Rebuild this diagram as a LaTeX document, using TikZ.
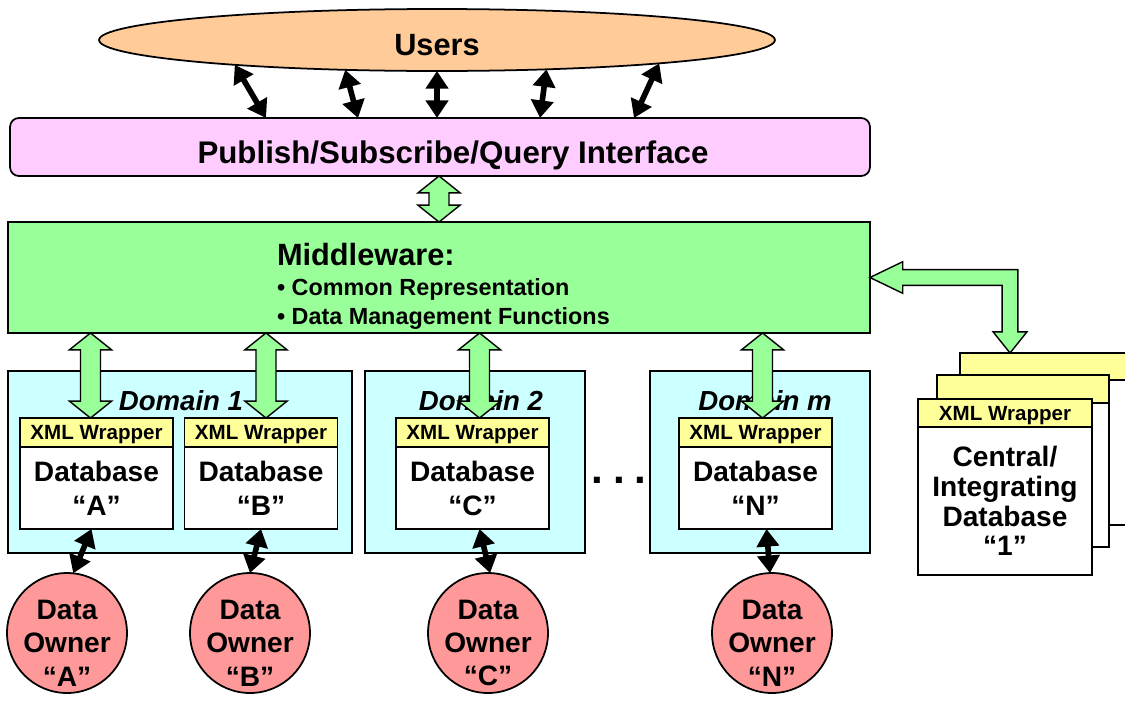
\documentclass[tikz,border=0pt]{standalone}
\usepackage{fontspec}
\setmainfont{Liberation Sans}
\usetikzlibrary{arrows.meta,calc,shapes.geometric}

\definecolor{usercol}{HTML}{FFCC99}
\definecolor{pubcol}{HTML}{FFCCFF}
\definecolor{mwcol}{HTML}{99FF99}
\definecolor{domcol}{HTML}{CCFFFF}
\definecolor{wrapcol}{HTML}{FFFF99}
\definecolor{ownercol}{HTML}{FF9999}

\newcommand{\hdfont}{\fontsize{17.5}{20}\selectfont\bfseries}
\newcommand{\dbfont}{\fontsize{16}{19.3}\selectfont\bfseries}
\newcommand{\wrapfont}{\fontsize{11.7}{14}\selectfont\bfseries}
\newcommand{\bulfont}{\fontsize{13.3}{16}\selectfont\bfseries}
\newcommand{\domfont}{\fontsize{15.7}{18}\selectfont\bfseries\itshape}

% hollow green double arrow, x taken from #2, from y of #1 down to #2
\newcommand{\garrow}[2]{%
  \draw[greenarrow] let \p1=(#1), \p2=(#2) in
    (\x2,\y1) -- (\x2+12pt,\y1-9.6pt) -- (\x2+5.7pt,\y1-9.6pt) -- (\x2+5.7pt,\y2+9.6pt)
    -- (\x2+12pt,\y2+9.6pt) -- (\x2,\y2) -- (\x2-12pt,\y2+9.6pt) -- (\x2-5.7pt,\y2+9.6pt)
    -- (\x2-5.7pt,\y1-9.6pt) -- (\x2-12pt,\y1-9.6pt) -- cycle;}

\begin{document}
\begin{tikzpicture}[x=0.02cm,y=-0.02cm,
  every node/.style={inner sep=0pt,outer sep=0pt},
  box/.style={draw,line width=1pt,rectangle},
  wrapbox/.style={box,fill=wrapcol,minimum width=3.06cm,minimum height=0.58cm,text depth=0pt,font=\wrapfont},
  dbbox/.style={box,fill=white,minimum width=3.06cm,minimum height=1.64cm,align=center,font=\dbfont},
  dombox/.style={box,fill=domcol,minimum height=3.64cm},
  owner/.style={draw,line width=1pt,circle,fill=ownercol,minimum size=2.4cm},
  ownertxt/.style={align=center,font=\fontsize{16}{19}\selectfont\bfseries},
  dblarrow/.style={line width=3.2pt,arrows={Triangle[length=10pt,width=12.5pt]-Triangle[length=10pt,width=12.5pt]}},
  greenarrow/.style={draw,line width=0.8pt,fill=mwcol,line join=miter}]
  \useasboundingbox (0,0) rectangle (1125,700);

  % users and interface
  \node[draw,line width=1pt,ellipse,fill=usercol,minimum width=13.52cm,minimum height=1.24cm] (users) at (437,40) {};
  \node[anchor=base,font=\hdfont] (userslbl) at (437,55) {Users};
  \node[box,rounded corners=5pt,fill=pubcol,minimum width=17.2cm,minimum height=1.16cm] (pub) at (440,147) {};
  \node[anchor=base,font=\fontsize{17.8}{20}\selectfont\bfseries] (publbl) at (453,163) {Publish/Subscribe/Query Interface};

  % middleware
  \node[box,fill=mwcol,minimum width=17.24cm,minimum height=2.22cm] (mw) at (439,277.5) {};
  \node[anchor=base west,font=\hdfont] (mwtitle) at (277,265) {Middleware:};
  \node[anchor=base west,font=\bulfont] (mwb1) at (277,295) {• Common Representation};
  \node[anchor=base west,font=\bulfont] (mwb2) at (277,324) {• Data Management Functions};

  % domains
  \node[dombox,minimum width=6.88cm] (dom1) at (180,462) {};
  \node[dombox,minimum width=4.4cm] (dom2) at (475,462) {};
  \node[dombox,minimum width=4.4cm] (domm) at (760,462) {};
  \node[anchor=base,font=\domfont] (dom1lbl) at (181,410) {Domain 1};
  \node[anchor=base,font=\domfont] (dom2lbl) at (481,410) {Domain 2};
  \node[anchor=base,font=\domfont] (dommlbl) at (765,410) {Domain m};

  \node[wrapbox] (xmlA) at (96.5,432.5) {XML Wrapper};
  \node[wrapbox] (xmlB) at (261,432.5) {XML Wrapper};
  \node[wrapbox] (xmlC) at (472.5,432.5) {XML Wrapper};
  \node[wrapbox] (xmlN) at (755.5,432.5) {XML Wrapper};
  \node[dbbox] (dbA) at (96.5,488) {Database\\“A”};
  \node[dbbox] (dbB) at (261,488) {Database\\“B”};
  \node[dbbox] (dbC) at (472.5,488) {Database\\“C”};
  \node[dbbox] (dbN) at (755.5,488) {Database\\“N”};
  \node[font=\fontsize{24}{24}\selectfont\bfseries] (dots) at (619,480) {.\hspace{5.5pt}.\hspace{5.5pt}.};

  % data owners
  \node[owner] (owA) at (67,633) {};
  \node[owner] (owB) at (250,633) {};
  \node[owner] (owC) at (488,633) {};
  \node[owner] (owN) at (772,633) {};
  \node[ownertxt] (owAtxt) at (67,643) {Data\\Owner\\“A”};
  \node[ownertxt] (owBtxt) at (250,643) {Data\\Owner\\“B”};
  \node[ownertxt] (owCtxt) at (488,643) {Data\\Owner\\“C”};
  \node[ownertxt] (owNtxt) at (772,643) {Data\\Owner\\“N”};

  % central database stack
  \node[box,fill=white,minimum width=4cm,minimum height=2.9cm] (backdb) at (1060,452.5) {};
  \node[box,fill=wrapcol,minimum width=4cm,minimum height=0.54cm] (backxml) at (1060,366.5) {};
  \node[box,fill=white,minimum width=3.44cm,minimum height=2.88cm] (middb) at (1023,475) {};
  \node[box,fill=wrapcol,minimum width=3.44cm,minimum height=0.56cm] (midxml) at (1023,389) {};
  \node[box,fill=white,minimum width=3.48cm,minimum height=2.96cm,align=center,font=\fontsize{16}{17}\selectfont\bfseries] (cendb) at (1005,501) {Central/\\Integrating\\Database\\“1”};
  \node[wrapbox,minimum width=3.48cm,minimum height=0.56cm] (cenxml) at (1005,413) {XML Wrapper};
  \coordinate (cdb) at (1010,353);

  % user arrows
  \draw[dblarrow] (users.187.6) -- ($(pub.north)+(-174,0)$);
  \draw[dblarrow] (users.198.8) -- ($(pub.north)+(-82,0)$);
  \draw[dblarrow] (users.south) -- (users.south |- pub.north);
  \draw[dblarrow] (users.345.5) -- ($(pub.north)+(100,0)$);
  \draw[dblarrow] (users.354) -- ($(pub.north)+(194,0)$);

  % owner arrows
  \draw[dblarrow] ($(dbA.south)+(-5,0)$) -- (owA.84);
  \draw[dblarrow] (dbB.south) -- (owB.north);
  \draw[dblarrow] ($(dbC.south)+(7,0)$) -- (owC.88);
  \draw[dblarrow] ($(dbN.south)+(11,0)$) -- (owN.92);

  % green arrows
  \garrow{pub.south}{mw.north}
  \garrow{mw.south}{$(xmlA.north)+(-6,0)$}
  \garrow{mw.south}{$(xmlB.north)+(5,0)$}
  \garrow{mw.south}{$(xmlC.north)+(7,0)$}
  \garrow{mw.south}{$(xmlN.north)+(7,0)$}
  \draw[greenarrow] let \p1=(mw.east), \p2=(cdb) in
    (\x1,\y1) -- (\x1+18.7pt,\y1+9pt) -- (\x1+18.7pt,\y1+4.5pt) -- (\x2+4.5pt,\y1+4.5pt)
    -- (\x2+4.5pt,\y2+12pt) -- (\x2+9.6pt,\y2+12pt) -- (\x2,\y2) -- (\x2-9.6pt,\y2+12pt)
    -- (\x2-4.5pt,\y2+12pt) -- (\x2-4.5pt,\y1-4.5pt) -- (\x1+18.7pt,\y1-4.5pt)
    -- (\x1+18.7pt,\y1-9pt) -- cycle;
\end{tikzpicture}
\end{document}
